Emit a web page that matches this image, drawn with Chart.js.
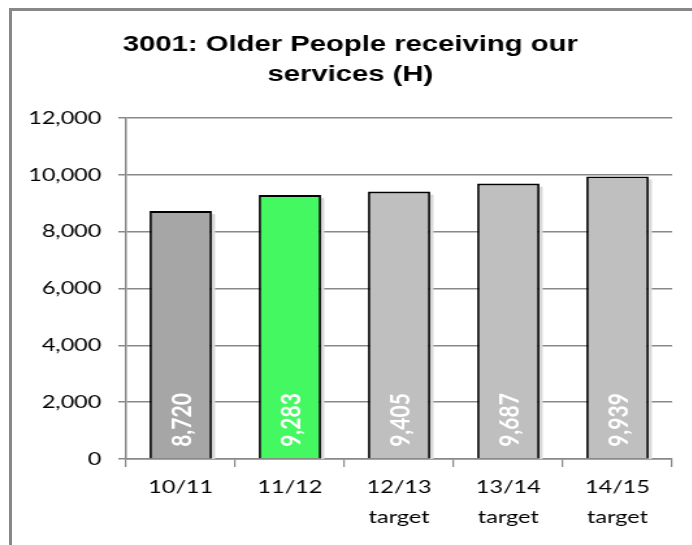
<!DOCTYPE html>
<html>
<head>
<meta charset="utf-8">
<script src="https://cdn.jsdelivr.net/npm/chart.js@4"></script>
<style>
  html, body { margin: 0; padding: 0; background: #fff; overflow: hidden; }
  #wrap { position: relative; width: 692px; height: 545px; }
  #frame { position: absolute; left: 9px; top: 8px; right: 0; bottom: 0;
           border-left: 3px solid #888; border-top: 3px solid #888; }
  /* the original picture is stretched sideways, so draw narrow and widen */
  #myChart { position: absolute; left: 0; top: 0;
             transform: scaleX(1.3); transform-origin: 0 0; }
</style>
</head>
<body>
<div id="wrap">
  <div id="frame"></div>
  <canvas id="myChart" width="532" height="545"></canvas>
</div>
<script>
var chartTitle = ["3001: Older People receiving our", "services (H)"];
var xLabels = [["10/11"], ["11/12"], ["12/13", "target"], ["13/14", "target"], ["14/15", "target"]];
var yValues = [8720, 9283, 9405, 9687, 9939];
var barColors = ["#A6A6A6", "#44F862", "#BFBFBF", "#BFBFBF", "#BFBFBF"];

// white rotated value labels inside bottom of each bar
var valueLabels = {
  id: "valueLabels",
  afterDatasetsDraw: function (chart) {
    var ctx = chart.ctx;
    var meta = chart.getDatasetMeta(0);
    var base = chart.scales.y.getPixelForValue(0);
    ctx.save();
    ctx.fillStyle = "#fff";
    ctx.font = "bold 21px Lato";
    ctx.textAlign = "center";
    ctx.textBaseline = "middle";
    meta.data.forEach(function (bar, i) {
      ctx.save();
      ctx.translate(bar.x + 1, base - 39);
      ctx.rotate(-Math.PI / 2);
      ctx.fillText(yValues[i].toLocaleString("en-US"), 0, 0);
      ctx.restore();
    });
    ctx.restore();
  }
};

// light drop shadow on the right of the bars
var barShadow = {
  id: "barShadow",
  beforeDatasetsDraw: function (chart) {
    var ctx = chart.ctx;
    var meta = chart.getDatasetMeta(0);
    var base = chart.scales.y.getPixelForValue(0);
    ctx.save();
    ctx.fillStyle = "#D9D9D9";
    meta.data.forEach(function (bar) {
      ctx.fillRect(bar.x + bar.width / 2, bar.y + 3, 2.5, base - bar.y - 3);
    });
    ctx.restore();
  }
};

new Chart("myChart", {
  type: "bar",
  data: {
    labels: xLabels,
    datasets: [{
      data: yValues,
      backgroundColor: barColors,
      borderColor: "#000",
      borderWidth: 1.8,
      borderSkipped: "bottom",
      barPercentage: 0.57,
      categoryPercentage: 1
    }]
  },
  options: {
    responsive: false,
    animation: false,
    layout: { padding: { left: 22, right: 15, top: 20, bottom: 8 } },
    plugins: {
      legend: { display: false },
      tooltip: { enabled: false },
      title: {
        display: true,
        text: chartTitle,
        color: "#000",
        font: { family: "Liberation Sans", size: 22.5, weight: "bold", lineHeight: 1.33 },
        padding: { top: 10, bottom: 28 }
      }
    },
    scales: {
      y: {
        min: 0,
        max: 12000,
        ticks: { stepSize: 2000, color: "#000", padding: 13,
                 font: { family: "Lato", size: 18 } },
        grid: { color: "#888", lineWidth: 1.5, tickLength: 6 },
        border: { color: "#888", width: 1.5 },
        afterFit: function (s) { s.width = 75; }
      },
      x: {
        ticks: { color: "#000", padding: 5,
                 font: { family: "Lato", size: 18, lineHeight: 1.67 } },
        grid: { display: true, drawOnChartArea: false, color: "#888", lineWidth: 1.2, tickLength: 8, offset: true },
        border: { color: "#888", width: 1.5 },
        afterFit: function (s) { s.height = 78; }
      }
    }
  },
  plugins: [barShadow, valueLabels]
});
</script>
</body>
</html>
